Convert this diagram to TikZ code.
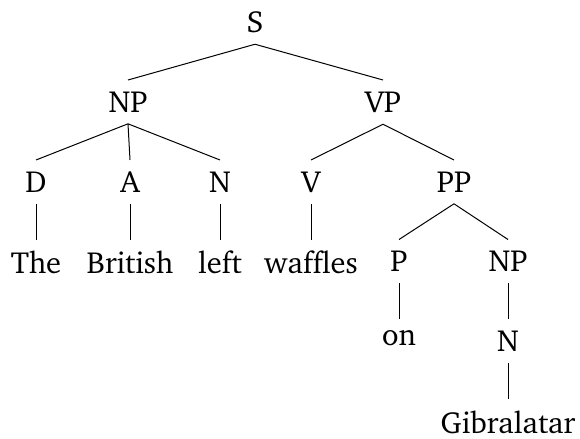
\documentclass[tikz,border=0pt]{standalone}
\usepackage[T1]{fontenc}
\renewcommand{\rmdefault}{bch}
\begin{document}
\begin{tikzpicture}
    [x=0.4pt,y=-0.4pt,
    cat/.style={anchor=north,inner sep=4.4pt,font=\fontsize{12.2}{14}\selectfont},
    branch/.style={draw=black,line width=0.4pt}]
    \useasboundingbox (0,0) rectangle (580,439);
    \node[cat] (s) at (255,0) {S};
    \node[cat] (np) at (128,80) {NP};
    \node[cat] (vp) at (383,80) {VP};
    \node[cat] (d) at (36,160) {D};
    \node[cat] (a) at (130,160) {A};
    \node[cat] (n) at (220,160) {N};
    \node[cat] (v) at (311,160) {V};
    \node[cat] (pp) at (454,160) {PP};
    \node[cat] (the) at (36,239.5) {The};
    \node[cat] (british) at (130,239.5) {British};
    \node[cat] (left) at (220,239.5) {left};
    \node[cat] (waffles) at (311,239.5) {waffles};
    \node[cat] (p) at (399,239.5) {P};
    \node[cat] (np2) at (508,239.5) {NP};
    \node[cat] (on) at (399,319) {on};
    \node[cat] (n2) at (508,319) {N};
    \node[cat] (gibralatar) at (508,399) {Gibralatar};
    \draw[branch] (s.south) -- (np.north) (s.south) -- (vp.north);
    \draw[branch] (np.south) -- (d.north) (np.south) -- (a.north)
        (np.south) -- (n.north);
    \draw[branch] (vp.south) -- (v.north) (vp.south) -- (pp.north);
    \draw[branch] (d.south) -- (the.north);
    \draw[branch] (a.south) -- (british.north);
    \draw[branch] (n.south) -- (left.north);
    \draw[branch] (v.south) -- (waffles.north);
    \draw[branch] (pp.south) -- (p.north) (pp.south) -- (np2.north);
    \draw[branch] (p.south) -- (on.north);
    \draw[branch] (np2.south) -- (n2.north);
    \draw[branch] (n2.south) -- (gibralatar.north);
\end{tikzpicture}
\end{document}
